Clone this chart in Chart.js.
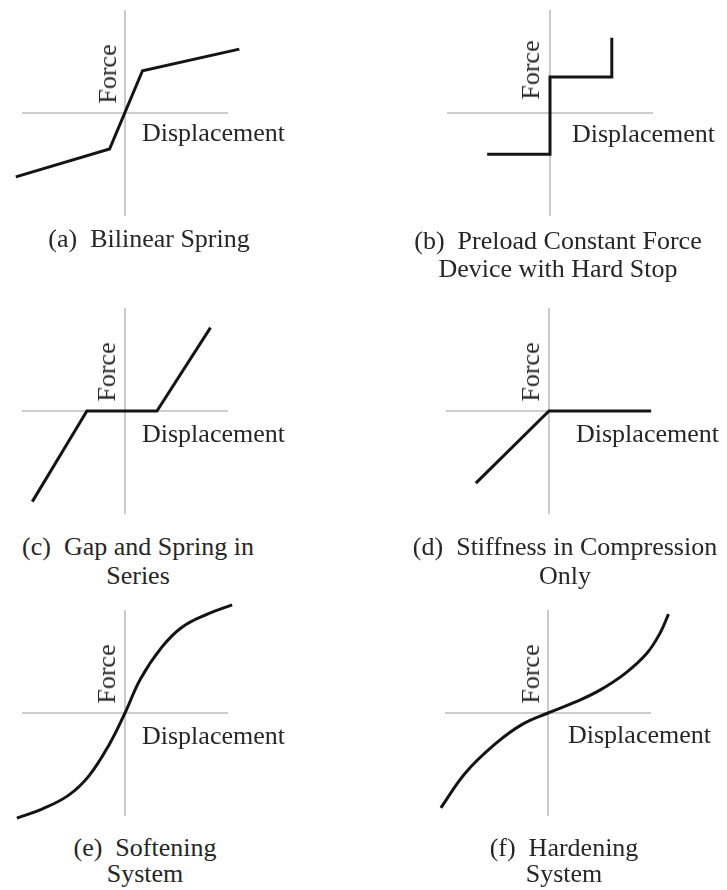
<!DOCTYPE html>
<html>
<head>
<meta charset="utf-8">
<script src="https://cdn.jsdelivr.net/npm/chart.js@4.4.1/dist/chart.umd.min.js"></script>
<style>
  html, body { margin: 0; padding: 0; background: #fff; overflow: hidden; }
  #page { position: relative; width: 727px; height: 890px; }
  canvas { position: absolute; }
  .lbl {
    position: absolute;
    font-family: "Liberation Serif", "Times New Roman", serif;
    font-size: 26px;
    line-height: 26px;
    color: #262626;
    white-space: pre;
  }
  .force { transform: translate(-50%, -50%) rotate(-90deg); }
  .cap { transform: translateX(-50%); text-align: center; }
</style>
</head>
<body>
<div id="page"></div>
<script>
// curve data, in axis units (axis half-length = 1)
const bilinearX = [-1.06, -0.15, 0.17, 1.11];
const bilinearY = [-0.62, -0.35, 0.41, 0.62];

const preloadX = [-0.61, 0, 0, 0.60, 0.60];
const preloadY = [-0.40, -0.40, 0.35, 0.35, 0.73];

const gapX = [-0.90, -0.37, 0.31, 0.83];
const gapY = [-0.88, 0, 0, 0.81];

const compressionX = [-0.71, 0, 0.99];
const compressionY = [-0.70, 0, 0];

const softeningX = [-1.05, -0.80, -0.55, -0.35, -0.15, 0, 0.15, 0.35, 0.55, 0.80, 1.04];
const softeningY = [-1.02, -0.93, -0.80, -0.61, -0.30, 0, 0.33, 0.63, 0.83, 0.96, 1.05];

const hardeningX = [-1.04, -0.80, -0.50, -0.25, 0, 0.25, 0.50, 0.75, 0.96, 1.09, 1.17];
const hardeningY = [-0.92, -0.58, -0.29, -0.11, 0, 0.10, 0.22, 0.385, 0.58, 0.78, 0.96];

// axis extent
const axisMin = -1;
const axisMax = 1;

const xLabel = 'Displacement';
const yLabel = 'Force';

const captions = [
  ['(a)  Bilinear Spring'],
  ['(b)  Preload Constant Force', 'Device with Hard Stop'],
  ['(c)  Gap and Spring in', 'Series'],
  ['(d)  Stiffness in Compression', 'Only'],
  ['(e)  Softening', 'System'],
  ['(f)  Hardening', 'System']
];

const series = [
  [bilinearX, bilinearY],
  [preloadX, preloadY],
  [gapX, gapY],
  [compressionX, compressionY],
  [softeningX, softeningY],
  [hardeningX, hardeningY]
];
const curved = [false, false, false, false, true, true];

// layout (pixels): origin of each panel, label spots, caption spots
const origins = [[125, 113], [550, 113], [125, 411], [549, 411], [125, 713], [548, 713]];
const dispPos = [[142, 142], [572, 143], [142, 443], [576, 443], [142, 745], [568, 744]];
const forcePos = [[108, 74], [531, 70], [107, 372], [531, 372], [107, 674], [531, 674]];
const capPos = [[149, 248, 27], [558, 250, 28], [138, 556, 29], [565, 556, 29], [145, 857, 26], [564, 857, 26]];

const U = 103;       // px per axis unit
const W = 270, H = 240;
const page = document.getElementById('page');

function pts(xs, ys) {
  return xs.map((x, i) => ({ x: x, y: ys[i] }));
}

function addLabel(text, cls, left, top) {
  const d = document.createElement('div');
  d.className = 'lbl ' + cls;
  d.textContent = text;
  d.style.left = left + 'px';
  d.style.top = top + 'px';
  page.appendChild(d);
}

series.forEach((s, i) => {
  const [ox, oy] = origins[i];
  const cv = document.createElement('canvas');
  cv.width = W;
  cv.height = H;
  cv.style.left = (ox - W / 2) + 'px';
  cv.style.top = (oy - H / 2) + 'px';
  page.appendChild(cv);

  const axisStyle = {
    showLine: true, pointRadius: 0, borderColor: '#bdbdbd', borderWidth: 1.6
  };

  // first dataset is drawn on top, so the curve goes first
  new Chart(cv.getContext('2d'), {
    type: 'scatter',
    data: {
      datasets: [
        {
          data: pts(s[0], s[1]),
          showLine: true,
          pointRadius: 0,
          borderColor: '#141414',
          borderWidth: 3,
          borderJoinStyle: curved[i] ? 'round' : 'miter',
          tension: curved[i] ? 0.4 : 0
        },
        Object.assign({ data: pts([axisMin, axisMax], [0, 0]) }, axisStyle),
        Object.assign({ data: pts([0, 0], [axisMin, axisMax]) }, axisStyle)
      ]
    },
    options: {
      responsive: false,
      animation: false,
      devicePixelRatio: 1,
      layout: { padding: 0 },
      plugins: { legend: { display: false }, tooltip: { enabled: false } },
      scales: {
        x: { type: 'linear', display: false, min: -W / 2 / U, max: W / 2 / U },
        y: { type: 'linear', display: false, min: -H / 2 / U, max: H / 2 / U }
      }
    }
  });

  // baseline sits ~21.8px below box top for 26px Liberation Serif
  addLabel(xLabel, '', dispPos[i][0], dispPos[i][1] - 22);
  addLabel(yLabel, 'force', forcePos[i][0], forcePos[i][1]);
  const [cx, cy, gap] = capPos[i];
  captions[i].forEach((line, k) => {
    addLabel(line, 'cap', cx, cy - 22 + k * gap);
  });
});
</script>
</body>
</html>
